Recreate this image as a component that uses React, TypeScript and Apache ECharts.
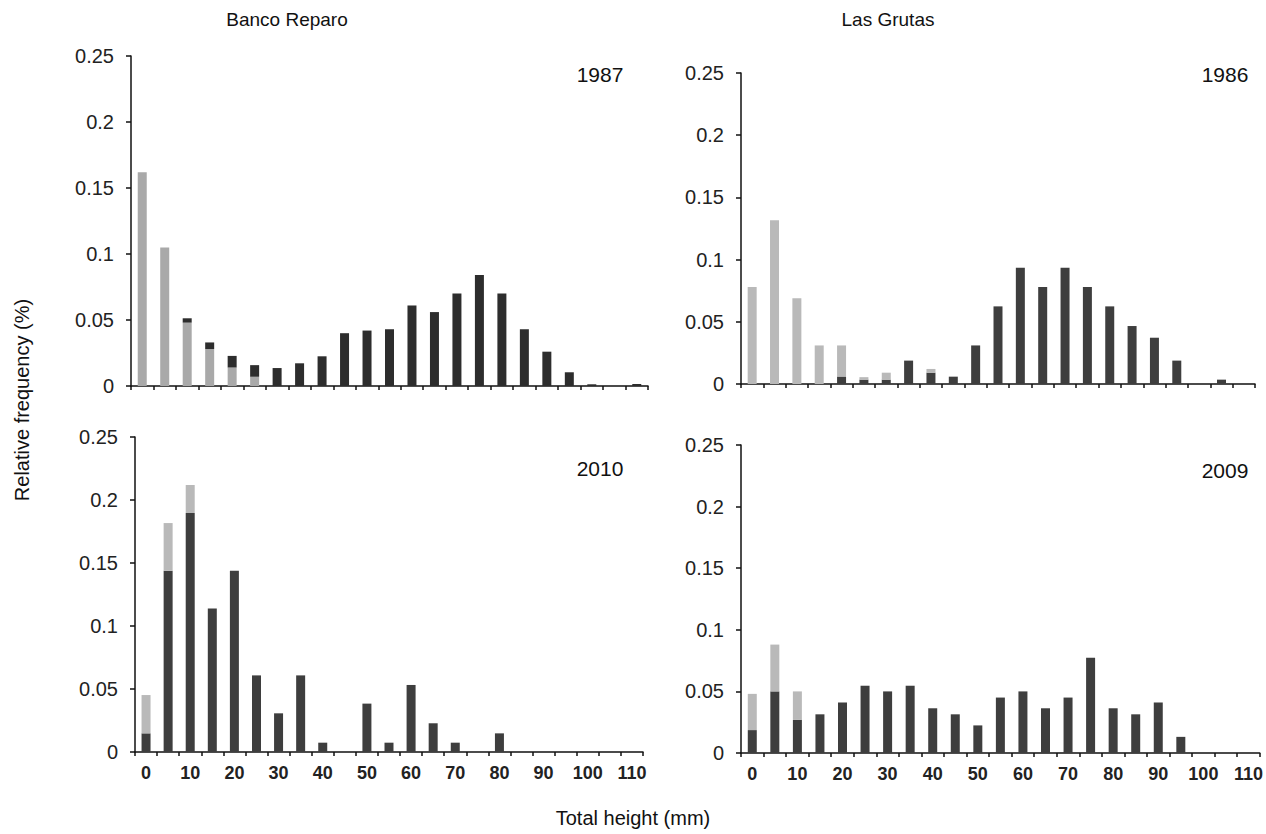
import React, { useEffect, useRef } from "react";
import * as echarts from "echarts";

const categories = ["0","5","10","15","20","25","30","35","40","45","50","55","60","65","70","75","80","85","90","95","100","105","110"];
const yTicks = [0, 0.05, 0.1, 0.15, 0.2, 0.25];

const siteTitles = ["Banco Reparo", "Las Grutas"];
const years = ["1987", "1986", "2010", "2009"];

// Banco Reparo 1987 (light at base, dark on top)
const light1987 = [0.162,0.105,0.048,0.028,0.014,0.007,0,0,0,0,0,0,0,0,0,0,0,0,0,0,0,0,0];
const dark1987 = [0,0,0.0033,0.005,0.0088,0.0088,0.0136,0.0172,0.0225,0.040,0.042,0.043,0.061,0.056,0.070,0.084,0.070,0.043,0.026,0.0104,0.0013,0,0.0015];

// Las Grutas 1986 (dark at base, light on top)
const dark1986 = [0,0,0,0,0.006,0.0035,0.0035,0.0188,0.0091,0.0059,0.031,0.0624,0.0935,0.078,0.0935,0.078,0.0624,0.0466,0.0372,0.0188,0,0.0035,0];
const light1986 = [0.078,0.1316,0.069,0.031,0.025,0.002,0.0056,0,0.003,0,0,0,0,0,0,0,0,0,0,0,0,0,0];

// Banco Reparo 2010
const dark2010 = [0.0148,0.1439,0.1897,0.1138,0.1439,0.0608,0.0307,0.0608,0.0074,0,0.0384,0.0074,0.0532,0.0228,0.0074,0,0.0148,0,0,0,0,0,0];
const light2010 = [0.0304,0.0378,0.0222,0,0,0,0,0,0,0,0,0,0,0,0,0,0,0,0,0,0,0,0];

// Las Grutas 2009
const dark2009 = [0.0186,0.050,0.027,0.0314,0.041,0.0546,0.050,0.0546,0.0363,0.0314,0.0224,0.045,0.050,0.0363,0.045,0.0773,0.0363,0.0314,0.041,0.0131,0,0,0];
const light2009 = [0.0294,0.038,0.023,0,0,0,0,0,0,0,0,0,0,0,0,0,0,0,0,0,0,0,0];

const FONT = "'Liberation Sans', Arial, Helvetica, sans-serif";

export default function App() {
  const ref = useRef<HTMLDivElement>(null);
  useEffect(() => {
    if (!ref.current) return;
    const chart = echarts.init(ref.current, null, { renderer: "svg" });
    const grids = [
      { left: 131, top: 56, width: 517, height: 330 },
      { left: 741, top: 73, width: 514, height: 311 },
      { left: 135, top: 437, width: 508, height: 315 },
      { left: 741, top: 445, width: 519, height: 308 },
    ];
    const xAxes = grids.map((_, i) => ({
      type: "category",
      gridIndex: i,
      data: categories,
      axisLine: { lineStyle: { color: "#111", width: 1.5 } },
      axisTick: { show: true, interval: 0, length: 4, lineStyle: { color: "#111", width: 1.5 } },
      axisLabel: {
        show: i >= 2,
        interval: 1,
        margin: 12,
        fontFamily: FONT,
        fontWeight: "bold",
        fontSize: 18,
        color: "#222",
      },
    }));
    const yAxes = grids.map((_, i) => ({
      type: "value",
      gridIndex: i,
      min: yTicks[0],
      max: yTicks[yTicks.length - 1],
      interval: 0.05,
      splitLine: { show: false },
      axisLine: { show: true, lineStyle: { color: "#111", width: 1.5 } },
      axisTick: { show: true, length: 5, lineStyle: { color: "#111", width: 1.5 } },
      axisLabel: {
        margin: 17,
        fontFamily: FONT,
        fontSize: 20,
        color: "#222",
        formatter: (v: number) => String(+v.toFixed(2)),
      },
    }));
    const mk = (data: number[], idx: number, color: string, stack: string) => ({
      type: "bar",
      xAxisIndex: idx,
      yAxisIndex: idx,
      stack,
      data,
      barWidth: 9,
      itemStyle: { color },
    });
    const L1 = "#a9a9a9", D1 = "#2d2d2d", L = "#b9b9b9", D = "#3e3e3e";
    const series = [
      mk(light1987, 0, L1, "s0"),
      mk(dark1987, 0, D1, "s0"),
      mk(dark1986, 1, D, "s1"),
      mk(light1986, 1, L, "s1"),
      mk(dark2010, 2, D, "s2"),
      mk(light2010, 2, L, "s2"),
      mk(dark2009, 3, D, "s3"),
      mk(light2009, 3, L, "s3"),
    ];
    const txt = (text: string, x: number, y: number, size: number, extra: any = {}) => ({
      type: "text",
      x,
      y,
      style: {
        text,
        fontFamily: FONT,
        fontSize: size,
        fill: "#111",
        textAlign: "center",
        textVerticalAlign: "middle",
      },
      ...extra,
    });
    chart.setOption({
      animation: false,
      grid: grids,
      xAxis: xAxes,
      yAxis: yAxes,
      series,
      graphic: [
        txt(siteTitles[0], 287, 19, 19),
        txt(siteTitles[1], 888, 19, 19),
        txt(years[0], 600, 74, 21),
        txt(years[1], 1225, 74, 21),
        txt(years[2], 600, 468, 21),
        txt(years[3], 1225, 470, 21),
        txt("Total height (mm)", 633, 818, 20),
        txt("Relative frequency (%)", 22, 400, 20, { rotation: Math.PI / 2 }),
      ],
    });
    return () => chart.dispose();
  }, []);
  return (
    <div
      ref={ref}
      style={{ position: "absolute", left: 0, top: 0, width: 1266, height: 834, background: "#fff" }}
    />
  );
}
